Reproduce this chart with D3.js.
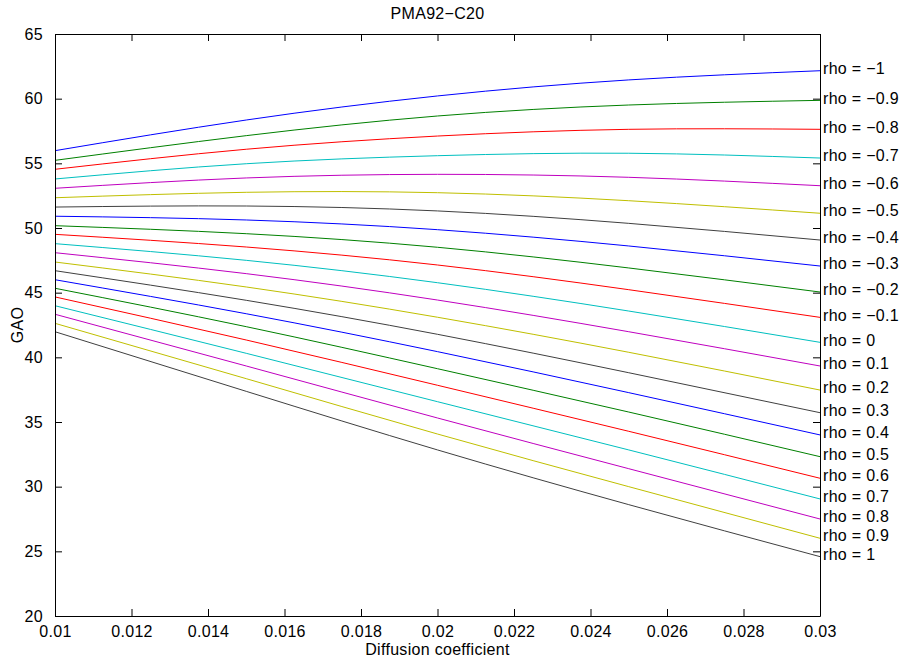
<!DOCTYPE html>
<html lang="en">
<head>
  <meta charset="UTF-8">
  <title>PMA92-C20</title>
  <script src="https://d3js.org/d3.v7.min.js"></script>
  <style>
    body { margin: 0; background: #fff; }
    svg text { font-family: "Liberation Sans", Arial, Helvetica, sans-serif; font-size: 16px; letter-spacing: 0.3px; fill: #000; }
  </style>
</head>
<body>
<svg id="chart" width="901" height="660"></svg>
<script>
  // Diffusion coefficient samples
  const xValues = [0.01, 0.015, 0.02, 0.025, 0.03];

  // rho values, one curve each
  const rhos = [-1, -0.9, -0.8, -0.7, -0.6, -0.5, -0.4, -0.3, -0.2, -0.1, 0,
                0.1, 0.2, 0.3, 0.4, 0.5, 0.6, 0.7, 0.8, 0.9, 1];

  // GAO, one row per rho, one column per x sample
  const gao = [
    [55.98, 58.35, 60.21, 61.45, 62.16],
    [55.23, 57.14, 58.66, 59.51, 59.87],
    [54.54, 56.09, 57.11, 57.63, 57.63],
    [53.79, 54.97, 55.59, 55.78, 55.41],
    [53.07, 53.87, 54.15, 53.92, 53.27],
    [52.34, 52.76, 52.73, 52.11, 51.14],
    [51.62, 51.70, 51.32, 50.36, 49.07],
    [50.91, 50.62, 49.87, 48.61, 47.06],
    [50.18, 49.56, 48.51, 46.91, 45.05],
    [49.51, 48.53, 47.14, 45.23, 43.09],
    [48.79, 47.50, 45.77, 43.58, 41.16],
    [48.09, 46.47, 44.43, 41.98, 39.33],
    [47.37, 45.44, 43.10, 40.39, 37.47],
    [46.70, 44.41, 41.78, 38.81, 35.72],
    [46.00, 43.37, 40.44, 37.27, 34.00],
    [45.34, 42.37, 39.12, 35.77, 32.32],
    [44.67, 41.34, 37.84, 34.28, 30.65],
    [43.99, 40.31, 36.57, 32.84, 29.05],
    [43.33, 39.33, 35.31, 31.39, 27.50],
    [42.63, 38.35, 34.07, 30.00, 26.01],
    [41.98, 37.37, 32.84, 28.61, 24.59]
  ];

  const xTicks = [0.01, 0.012, 0.014, 0.016, 0.018, 0.02, 0.022, 0.024, 0.026, 0.028, 0.03];
  const yTicks = [20, 25, 30, 35, 40, 45, 50, 55, 60, 65];

  // MATLAB default colour order
  const colorOrder = ["#0000ff", "#008000", "#ff0000", "#00bfbf", "#bf00bf", "#bfbf00", "#404040"];

  const margin = { top: 34, right: 81, bottom: 44, left: 55 };
  const width = 901, height = 660;

  const x = d3.scaleLinear().domain([0.01, 0.03]).range([margin.left, width - margin.right]);
  const y = d3.scaleLinear().domain([20, 65]).range([height - margin.bottom, margin.top]);

  const svg = d3.select("#chart");
  const fmt = d => String(d);
  const tl = 7;

  // lines
  const line = d3.line()
    .x(d => x(d[0]))
    .y(d => y(d[1]))
    .curve(d3.curveNatural);

  const series = rhos.map((r, i) => ({ rho: r, pts: xValues.map((xv, j) => [xv, gao[i][j]]) }));

  svg.append("g").selectAll("path")
    .data(series)
    .enter().append("path")
    .attr("d", d => line(d.pts))
    .attr("fill", "none")
    .attr("stroke", (d, i) => colorOrder[i % colorOrder.length])
    .attr("stroke-width", 1);

  // axes: ticks inside, on all four sides
  svg.append("g")
     .attr("transform", `translate(0,${y(20)})`)
     .call(d3.axisBottom(x).tickValues(xTicks).tickFormat(fmt).tickSizeInner(-tl).tickSizeOuter(0).tickPadding(12))
     .call(g => g.selectAll("text").attr("dy", "0.55em"));

  svg.append("g")
     .attr("transform", `translate(0,${y(65)})`)
     .call(d3.axisTop(x).tickValues(xTicks).tickFormat("").tickSizeInner(-tl).tickSizeOuter(0));

  svg.append("g")
     .attr("transform", `translate(${x(0.01)},0)`)
     .call(d3.axisLeft(y).tickValues(yTicks).tickFormat(fmt).tickSizeInner(-tl).tickSizeOuter(0).tickPadding(12));

  svg.append("g")
     .attr("transform", `translate(${x(0.03)},0)`)
     .call(d3.axisRight(y).tickValues(yTicks).tickFormat("").tickSizeInner(-tl).tickSizeOuter(0));

  svg.selectAll(".domain").attr("stroke", "#000");
  svg.selectAll(".tick line").attr("stroke", "#000");
  svg.selectAll(".tick text").style("font-size", "16px").attr("fill", "#000");

  // rho labels at line ends
  svg.append("g").selectAll("text")
    .data(series)
    .enter().append("text")
    .attr("x", x(0.03) + 3)
    .attr("y", d => y(d.pts[d.pts.length - 1][1]) - 1)
    .attr("dominant-baseline", "middle")
    .text(d => "rho = " + String(d.rho).replace("-", "\u2212"));

  // title and axis labels
  svg.append("text")
     .attr("x", (x(0.01) + x(0.03)) / 2)
     .attr("y", 19)
     .attr("text-anchor", "middle")
     .text("PMA92\u2212C20");

  svg.append("text")
     .attr("x", (x(0.01) + x(0.03)) / 2)
     .attr("y", 655)
     .attr("text-anchor", "middle")
     .text("Diffusion coefficient");

  svg.append("text")
     .attr("transform", `translate(23,${(y(20) + y(65)) / 2}) rotate(-90)`)
     .attr("text-anchor", "middle")
     .text("GAO");
</script>
</body>
</html>
